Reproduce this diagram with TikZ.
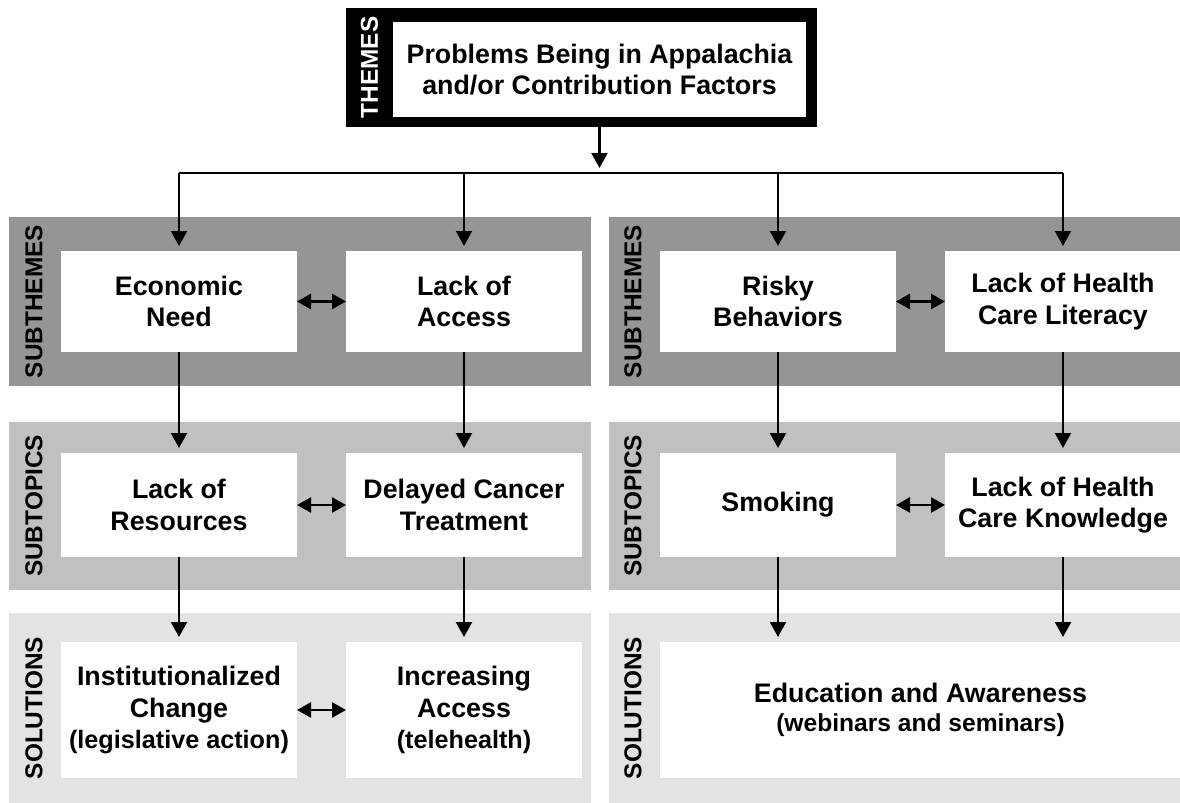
\documentclass[tikz,border=0pt]{standalone}
\usepackage{fontspec}
\setmainfont{Liberation Sans}
\usetikzlibrary{arrows.meta, positioning}
\definecolor{bandA}{HTML}{959595}
\definecolor{bandB}{HTML}{C0C0C0}
\definecolor{bandC}{HTML}{E3E3E3}

\begin{document}
\begin{tikzpicture}[
    x=0.5pt, y=-0.5pt,
    box/.style={rectangle, fill=white, inner sep=0pt, outer sep=0pt, minimum width=118pt, minimum height=50.5pt, align=center, font=\bfseries\fontsize{13.4}{15.6}\selectfont},
    band/.style={rotate=90, inner sep=0pt, font=\bfseries\fontsize{12.2}{12}\selectfont},
    arrow/.style={-{Triangle[length=7.5pt, width=8pt]}, line width=1.1pt, shorten >=2.5pt},
    both/.style={{Triangle[length=7pt, width=7.5pt]}-{Triangle[length=7pt, width=7.5pt]}, line width=1.3pt}
]
\useasboundingbox[fill=white] (0,0) rectangle (1180,803);
\foreach \y/\h/\c/\t/\n in {217/386/bandA/SUBTHEMES/sub, 422/590/bandB/SUBTOPICS/top, 613/803/bandC/SOLUTIONS/sol} {
    \fill[\c] (9,\y) rectangle (591,\h);
    \fill[\c] (609,\y) rectangle (1180,\h);
    \node[band] (\n L) at (34,{(\y+\h)/2}) {\t};
    \node[band] (\n R) at (633,{(\y+\h)/2}) {\t};
}

\node[fill=black, inner sep=0pt, minimum width=235.5pt, minimum height=59.5pt] (themebox) at (581.5,67.5) {};
\node[band, text=white] (themelbl) at (369.5,67.5) {THEMES};
\node[box, minimum width=206.5pt, minimum height=47.5pt] (theme) at (599.5,69.5) {Problems Being in Appalachia\\and/or Contribution Factors};
\coordinate (split) at (599.5,173);

\node[box] (econ) at (179,301.5) {Economic\\Need};
\node[box, right=24.5pt of econ] (access) {Lack of\\Access};
\node[box, right=39pt of access] (risky) {Risky\\Behaviors};
\node[box, right=24.5pt of risky] (literacy) {Lack of Health\\Care Literacy};

\node[box, minimum height=52pt, below=50.5pt of econ] (resources) {Lack of\\Resources};
\node[box, minimum height=52pt, below=50.5pt of access] (delayed) {Delayed Cancer\\Treatment};
\node[box, minimum height=52pt, below=50.5pt of risky] (smoking) {Smoking};
\node[box, minimum height=52pt, below=50.5pt of literacy] (knowledge) {Lack of Health\\Care Knowledge};

\node[box, minimum height=68pt, below=42.5pt of resources] (change) {Institutionalized\\Change\\{\fontsize{12.6}{15.6}\selectfont(legislative action)}};
\node[box, minimum height=68pt, below=42.5pt of delayed] (increase) {Increasing\\Access\\{\fontsize{12.6}{15.6}\selectfont(telehealth)}};
\node[box, minimum width=260.5pt, minimum height=68pt, below right=42.5pt and 0pt of smoking.south west, anchor=north west] (education) {Education and Awareness\\[-1pt]{\fontsize{12.3}{14}\selectfont(webinars and seminars)}};

\draw[arrow] (theme.center |- themebox.south) -- (split);
\draw[line width=1.1pt] (econ.north |- split) -- (literacy.north |- split);
\foreach \n in {econ, access, risky, literacy}
    \draw[arrow] (\n.north |- split) -- (\n.north);

\draw[arrow] (econ) -- (resources);
\draw[arrow] (access) -- (delayed);
\draw[arrow] (risky) -- (smoking);
\draw[arrow] (literacy) -- (knowledge);
\draw[arrow] (resources) -- (change);
\draw[arrow] (delayed) -- (increase);
\draw[arrow] (smoking.south) -- (smoking.south |- education.north);
\draw[arrow] (knowledge.south) -- (knowledge.south |- education.north);

\draw[both] (econ) -- (access);
\draw[both] (risky) -- (literacy);
\draw[both] (resources) -- (delayed);
\draw[both] (smoking) -- (knowledge);
\draw[both] (change) -- (increase);
\end{tikzpicture}
\end{document}
